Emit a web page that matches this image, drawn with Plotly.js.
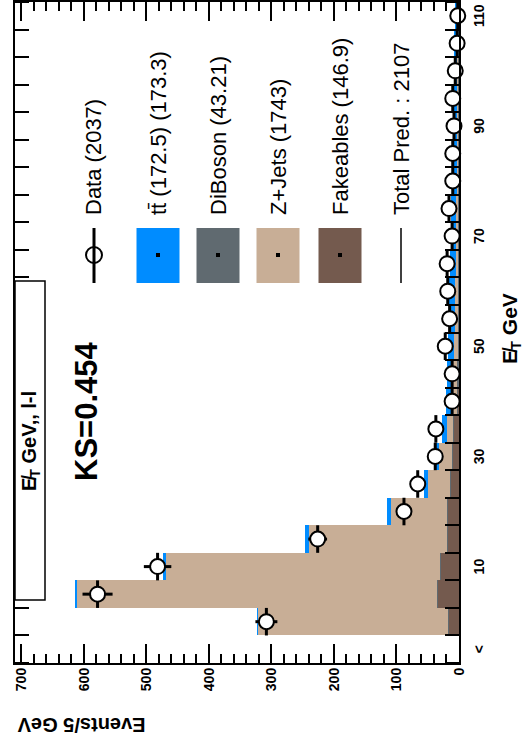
<!DOCTYPE html>
<html>
<head>
<meta charset="utf-8">
<script src="https://cdn.plot.ly/plotly-3.0.1.min.js"></script>
<style>
  html, body { margin: 0; padding: 0; background: #fff; overflow: hidden; }
  #wrap { position: absolute; left: 0; top: 0; width: 527px; height: 745px; overflow: hidden; background: #fff; }
  /* the canvas is laid out landscape and turned a quarter turn counter-clockwise */
  #plot { position: absolute; left: 0; top: 0; width: 745px; height: 527px;
          transform-origin: 0 0; transform: translate(0px, 745px) rotate(-90deg); }
</style>
</head>
<body>
<div id="wrap"><div id="plot"></div></div>
<script>
// MET distribution, 5 GeV bins (low edges)
const binLow = [0, 5, 10, 15, 20, 25, 30, 35, 40, 45, 50, 55, 60, 65, 70, 75, 80, 85, 90, 95, 100, 105, 110];

// stacked predictions, events per bin
const fakeables = [16, 34, 29, 18, 17, 13, 10, 8, 1.5, 0.5, 0.3, 0.2, 0.2, 0.1, 0.1, 0.1, 0, 0, 0, 0, 0, 0, 0];
const diboson   = [0.8, 1.5, 1.5, 1.5, 1.5, 1.5, 1.5, 1.5, 2, 2, 2, 2, 2, 2, 2, 2, 2, 2, 2, 2, 2, 2, 2];
const zjets     = [304, 575, 438, 220, 90, 35, 20, 10, 8, 7, 6, 5, 4, 3.5, 3, 2.5, 2, 1.8, 1.5, 1.2, 1, 0.8, 0.6];
const ttbar     = [2, 4, 5, 6, 7, 7, 8, 8, 9, 9, 9, 9, 9, 8.5, 8, 8, 7.5, 7, 6.5, 6, 5.5, 5, 4.5];

// observed events per bin
const data = [308, 578, 482, 226, 88, 66, 38, 37, 11, 11, 22, 15, 18, 19, 11, 16, 10, 10, 8, 10, 6, 3, 2];

// axis labels, drawn at bin centres
const xLabelAt   = [-2.5, 12.5, 32.5, 52.5, 72.5, 92.5, 112.5];
const xLabelText = ['<', '10', '30', '50', '70', '90', '110'];

// legend
const legendNames = ['Data (2037)', 'tt\u0304 (172.5) (173.3)', 'DiBoson (43.21)', 'Z+Jets (1743)', 'Fakeables (146.9)', 'Total Pred. : 2107'];
const colTT = 'rgb(0,140,255)';
const colDB = 'rgb(96,106,112)';
const colZJ = 'rgb(200,174,150)';
const colFK = 'rgb(116,90,78)';

const W = 745, H = 527;
const M = { l: 82, r: 2, t: 15, b: 68 };
const pw = W - M.l - M.r, ph = H - M.t - M.b;
// pixel position on the landscape canvas -> paper fraction
const px = u => (u - M.l) / pw;
const py = v => (H - M.b - v) / ph;

const centers = binLow.map(b => b + 2.5);
const errs = data.map(d => Math.sqrt(d));

const bar = (y, color, name) => ({
  type: 'bar', x: centers, y: y, width: 5, name: name,
  marker: { color: color, line: { width: 0 } }, showlegend: false, hoverinfo: 'skip'
});

const traces = [
  bar(fakeables, colFK, 'Fakeables'),
  bar(diboson, colDB, 'DiBoson'),
  bar(zjets, colZJ, 'Z+Jets'),
  bar(ttbar, colTT, 'ttbar'),
  {
    type: 'scatter', mode: 'markers', x: centers, y: data, name: 'Data', showlegend: false,
    marker: { symbol: 'circle', size: 15, color: 'white', line: { color: 'black', width: 2 } },
    error_y: { type: 'data', array: errs, visible: true, color: 'black', thickness: 3, width: 0 },
    error_x: { type: 'constant', value: 2.5, visible: true, color: 'black', thickness: 3, width: 0 },
    cliponaxis: false
  }
];

const shapes = [];
const annotations = [];
const font = 'Liberation Sans, Arial, Helvetica, sans-serif';
const note = (u, v, text, size, extra) => Object.assign({
  xref: 'paper', yref: 'paper', x: px(u), y: py(v), xanchor: 'center', yanchor: 'middle',
  showarrow: false, text: text, font: { family: font, size: size, color: 'black' }
}, extra || {});

// title box at the top of the frame
shapes.push({ type: 'rect', xref: 'paper', yref: 'paper', x0: px(145), x1: px(464), y0: py(45), y1: py(15),
  fillcolor: 'white', line: { color: 'black', width: 1.5 }, layer: 'above' });
annotations.push(note(304, 31, '<b>E\u0338<sub>T</sub> GeV,, l-l</b>', 20));

// KS statistic
annotations.push(note(262, 86, '<b>KS=0.454</b>', 31, { xanchor: 'left' }));

// axis titles
annotations.push(note(20, 15, '<b>Events/5 GeV</b>', 20, { yanchor: 'top', textangle: -90 }));
annotations.push(note(417, 511, '<b>E\u0338<sub>T</sub> GeV</b>', 21));

// legend
const rows = [94, 158, 218, 278, 340, 401];
const boxCols = [null, colTT, colDB, colZJ, colFK, null];
rows.forEach((v, i) => {
  const c = boxCols[i];
  if (i === 0) {
    shapes.push({ type: 'line', xref: 'paper', yref: 'paper', x0: px(462), x1: px(517), y0: py(v), y1: py(v),
      line: { color: 'black', width: 3 } });
    shapes.push({ type: 'circle', xref: 'paper', yref: 'paper', x0: px(482), x1: px(498), y0: py(v + 8), y1: py(v - 8),
      line: { color: 'black', width: 2 } });
  } else if (c) {
    shapes.push({ type: 'rect', xref: 'paper', yref: 'paper', x0: px(462), x1: px(517), y0: py(v + 21.5), y1: py(v - 21.5),
      fillcolor: c, line: { width: 0 } });
    shapes.push({ type: 'rect', xref: 'paper', yref: 'paper', x0: px(488), x1: px(492), y0: py(v + 2), y1: py(v - 2),
      fillcolor: 'black', line: { width: 0 } });
  } else {
    shapes.push({ type: 'line', xref: 'paper', yref: 'paper', x0: px(462), x1: px(517), y0: py(v), y1: py(v),
      line: { color: 'black', width: 1.5 } });
  }
  annotations.push(note(528, v, legendNames[i], 22, { xanchor: 'left' }));
});

const layout = {
  width: W, height: H,
  margin: M,
  paper_bgcolor: 'white', plot_bgcolor: 'white',
  barmode: 'stack', bargap: 0,
  showlegend: false,
  font: { family: font, color: 'black' },
  xaxis: {
    range: [-5, 115], showgrid: false, zeroline: false,
    showline: true, linecolor: 'black', linewidth: 2, mirror: 'ticks',
    tickmode: 'array', tickvals: xLabelAt, ticktext: xLabelText, ticks: '',
    tickfont: { family: font, size: 14, color: 'black', weight: 700 },
    ticklabelstandoff: 6,
    minor: { tickmode: 'linear', tick0: 0, dtick: 5, ticks: 'inside', ticklen: 14, tickwidth: 2, tickcolor: 'black', showgrid: false }
  },
  yaxis: {
    range: [0, 710], showgrid: false, zeroline: false,
    showline: true, linecolor: 'black', linewidth: 2, mirror: 'ticks',
    tickmode: 'linear', tick0: 0, dtick: 100, ticks: 'inside', ticklen: 19, tickwidth: 2, tickcolor: 'black',
    tickfont: { family: font, size: 14, color: 'black', weight: 700 },
    minor: { tickmode: 'linear', tick0: 0, dtick: 20, ticks: 'inside', ticklen: 9, tickwidth: 2, tickcolor: 'black', showgrid: false }
  },
  shapes: shapes,
  annotations: annotations
};

Plotly.newPlot('plot', traces, layout, { staticPlot: true, displayModeBar: false });
</script>
</body>
</html>
